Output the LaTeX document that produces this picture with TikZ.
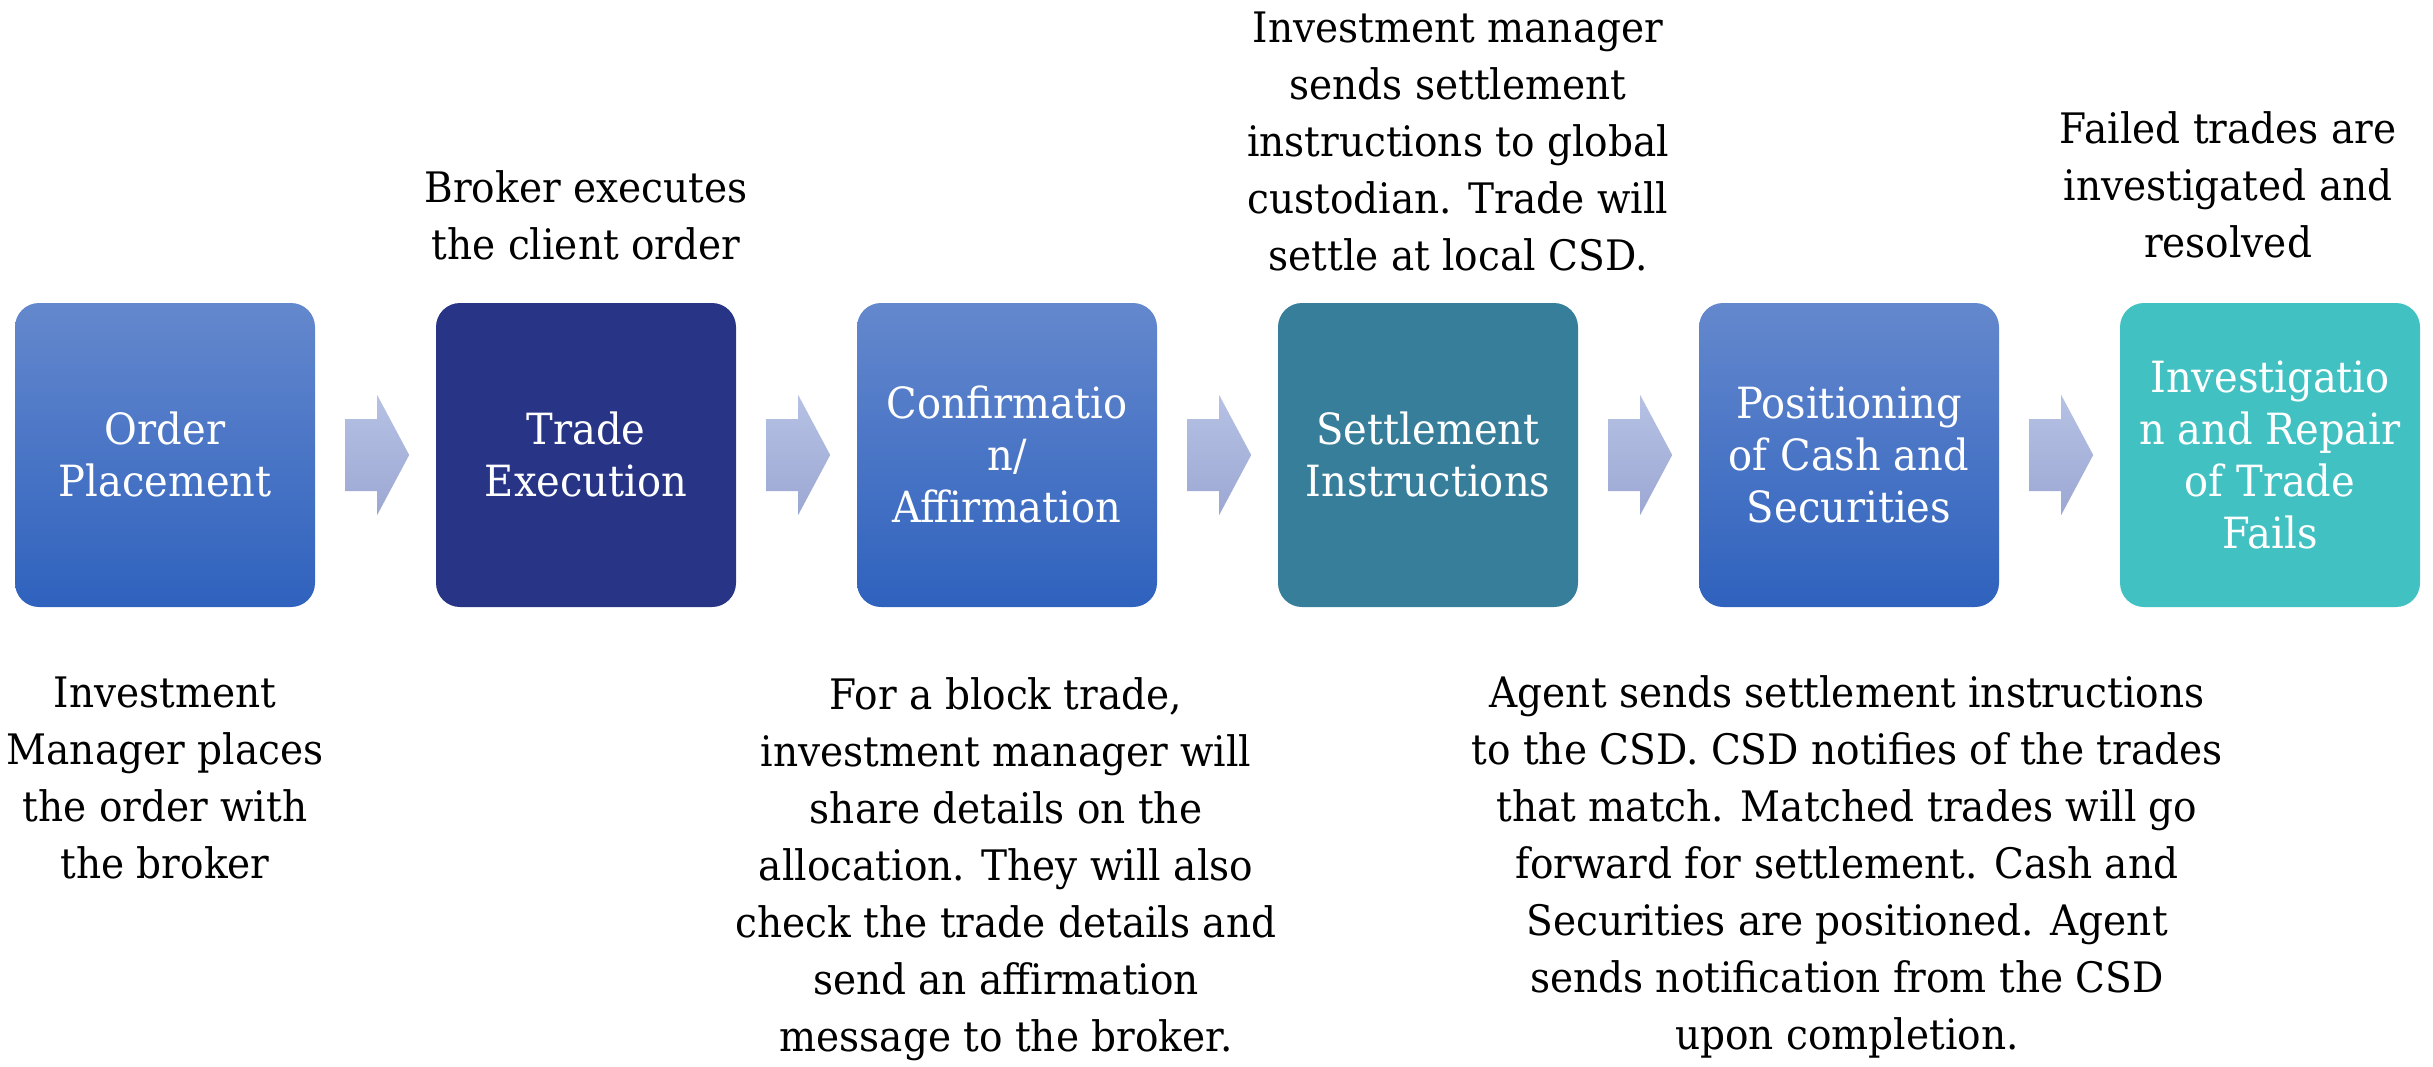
\documentclass[tikz,border=0pt]{standalone}
\usepackage{fontspec}
\setmainfont{DejaVu Serif}[FakeStretch=0.93]
\definecolor{blueTop}{HTML}{6488CD}
\definecolor{blueBot}{HTML}{2F62BE}
\definecolor{navyBox}{HTML}{283586}
\definecolor{tealBox}{HTML}{377E9B}
\definecolor{turqBox}{HTML}{42C1C3}
\definecolor{arrTop}{HTML}{B6C1E4}
\definecolor{arrBot}{HTML}{9CA8D3}
\newcommand\outerlines[1]{\vtop{\baselineskip=57pt\lineskiplimit=-1000pt\lineskip=0pt\halign{\hfil##\hfil\cr#1\crcr}}}
\newcommand\boxlines[1]{\vbox{\baselineskip=52pt\lineskiplimit=-1000pt\lineskip=0pt\halign{\hfil\vrule width0pt height41pt depth11pt\relax##\hfil\cr#1\crcr}}}
\begin{document}
\begin{tikzpicture}[x=1pt,y=-1pt,
  stepbox/.style={rounded corners=24pt, minimum width=300pt, minimum height=304pt, inner sep=0pt, text=white, font=\fontsize{43}{52}\selectfont},
  bluebox/.style={stepbox, top color=blueTop, bottom color=blueBot},
  note/.style={anchor=base, inner sep=0pt, text=black, font=\fontsize{42}{57}\selectfont},
  chevron/.style={top color=arrTop, bottom color=arrBot, draw=none}]
\useasboundingbox (0,0) rectangle (2433,1066);
% step boxes
\node[bluebox] (b1) at (165,455) {\boxlines{Order\cr Placement}};
\node[stepbox, fill=navyBox] (b2) at (586,455) {\boxlines{Trade\cr Execution}};
\node[bluebox] (b3) at (1007,455) {\boxlines{Confirmatio\cr n/\cr Affirmation}};
\node[stepbox, fill=tealBox] (b4) at (1428,455) {\boxlines{Settlement\cr Instructions}};
\node[bluebox] (b5) at (1849,455) {\boxlines{Positioning\cr of Cash and\cr Securities}};
\node[stepbox, fill=turqBox] (b6) at (2270,455) {\boxlines{Investigatio\cr n and Repair\cr of Trade\cr Fails}};
% chevron arrows between boxes
\foreach \i in {1,...,5}{
  \path[chevron, shift={(b\i.east)}] (30,-36) -- (62,-36) -- (62,-60) -- (94,0) -- (62,60) -- (62,36) -- (30,36) -- cycle;
}
% upper notes
\node[note] (t2) at (586,202) {\outerlines{Broker executes\cr the client order}};
\node[note] (t4) at (1458,42) {\outerlines{Investment manager\cr sends settlement\cr instructions to global\cr custodian. Trade will\cr settle at local CSD.}};
\node[note] (t6) at (2228,143) {\outerlines{Failed trades are\cr investigated and\cr resolved}};
% lower notes
\node[note] (n1) at (165,707) {\outerlines{Investment\cr Manager places\cr the order with\cr the broker}};
\node[note] (n3) at (1006,709) {\outerlines{For a block trade,\cr investment manager will\cr share details on the\cr allocation. They will also\cr check the trade details and\cr send an affirmation\cr message to the broker.}};
\node[note] (n5) at (1847,707) {\outerlines{Agent sends settlement instructions\cr to the CSD. CSD notifies of the trades\cr that match. Matched trades will go\cr forward for settlement. Cash and\cr Securities are positioned. Agent\cr sends notification from the CSD\cr upon completion.}};
\end{tikzpicture}
\end{document}
